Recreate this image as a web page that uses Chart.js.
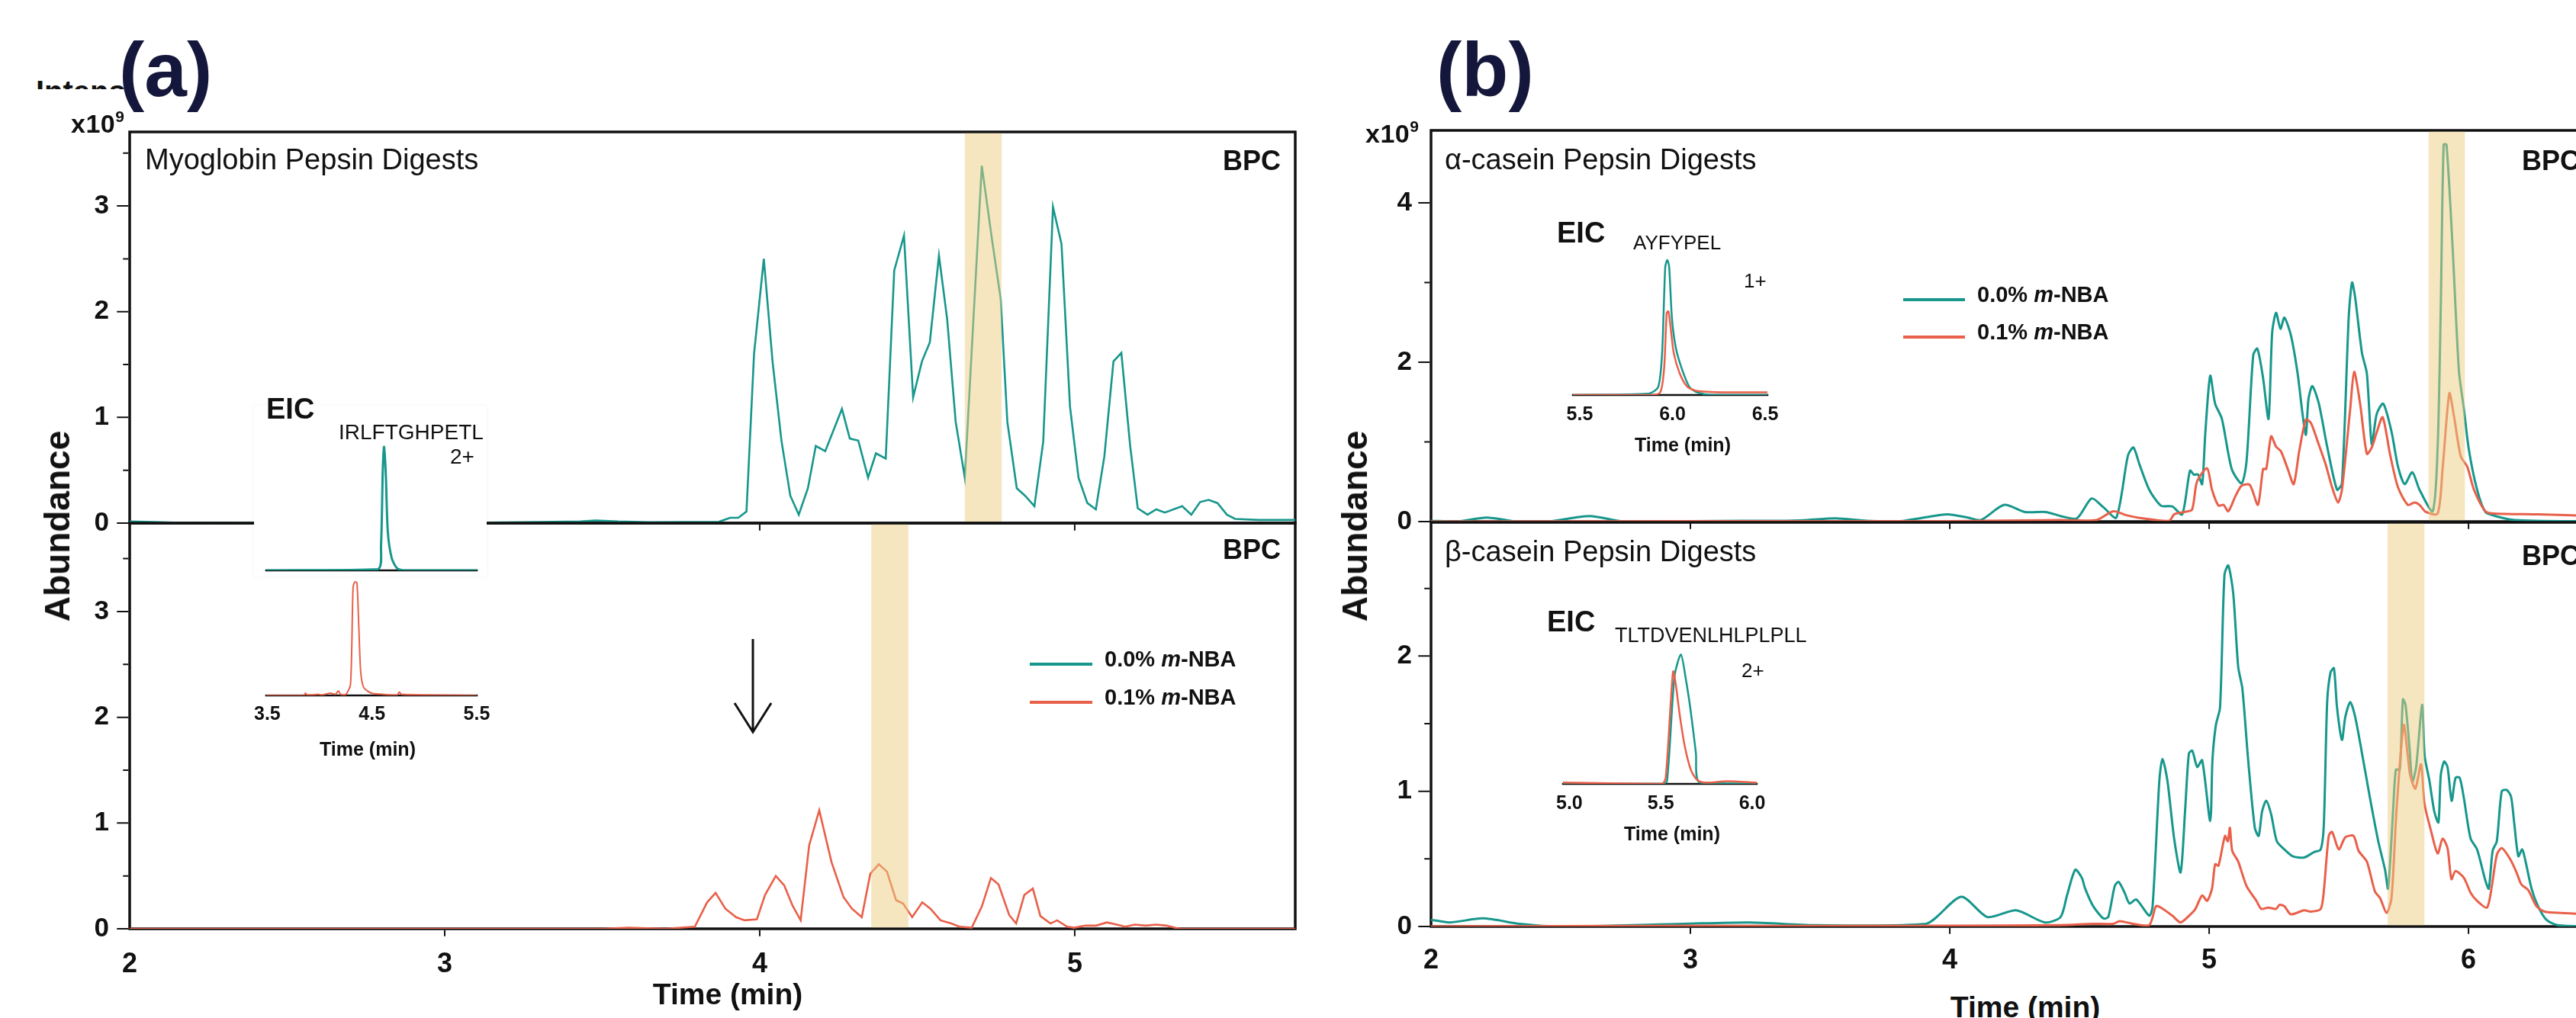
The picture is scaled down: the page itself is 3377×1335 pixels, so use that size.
<!DOCTYPE html>
<html>
<head>
<meta charset="utf-8">
<script src="https://cdn.jsdelivr.net/npm/chart.js@4.4.1/dist/chart.umd.min.js"></script>
<style>
  html, body { margin: 0; padding: 0; background: #fff; }
  #stage { position: relative; width: 3377px; height: 1335px; overflow: hidden; background: #fff;
           font-family: "Liberation Sans", Arial, Helvetica, sans-serif; color: #111; }
  #stage canvas { position: absolute; }
  .t { position: absolute; white-space: nowrap; line-height: 1; }
  .b { font-weight: bold; }
</style>
</head>
<body>
<div id="stage"></div>
<script>
// ---- data: [time (min), abundance x10^9] ----
const myoBpc0 = [[2.00,0.015],[2.10,0.008],[2.20,0.0],[2.30,0.003],[2.40,0.005],[3.13,0.005],[3.30,0.01],[3.43,0.015],[3.48,0.025],[3.55,0.015],[3.65,0.008],[3.87,0.012],[3.906,0.05],[3.932,0.05],[3.958,0.11],[3.982,1.60],[4.013,2.50],[4.041,1.52],[4.069,0.78],[4.097,0.26],[4.124,0.08],[4.153,0.33],[4.178,0.73],[4.208,0.68],[4.261,1.08],[4.286,0.80],[4.313,0.78],[4.344,0.43],[4.369,0.66],[4.400,0.61],[4.427,2.39],[4.458,2.72],[4.487,1.19],[4.515,1.53],[4.540,1.71],[4.569,2.53],[4.595,1.93],[4.622,0.96],[4.651,0.43],[4.705,3.38],[4.737,2.69],[4.765,2.12],[4.786,0.96],[4.816,0.33],[4.842,0.26],[4.872,0.16],[4.900,0.77],[4.931,2.99],[4.958,2.64],[4.985,1.10],[5.012,0.43],[5.040,0.19],[5.067,0.13],[5.094,0.63],[5.123,1.53],[5.148,1.61],[5.176,0.73],[5.200,0.14],[5.231,0.08],[5.259,0.13],[5.286,0.10],[5.341,0.16],[5.370,0.08],[5.398,0.20],[5.425,0.22],[5.453,0.19],[5.483,0.08],[5.509,0.04],[5.583,0.03],[5.70,0.03]];
const myoBpc1 = [[2.0,0.0],[3.50,0.0],[3.584,0.01],[3.70,0.0],[3.794,0.02],[3.833,0.25],[3.860,0.34],[3.891,0.19],[3.925,0.11],[3.952,0.08],[3.991,0.09],[4.017,0.32],[4.051,0.50],[4.078,0.41],[4.104,0.22],[4.130,0.08],[4.157,0.79],[4.189,1.12],[4.228,0.63],[4.266,0.30],[4.293,0.19],[4.324,0.11],[4.351,0.52],[4.378,0.61],[4.404,0.54],[4.433,0.27],[4.455,0.24],[4.484,0.11],[4.516,0.25],[4.542,0.19],[4.574,0.08],[4.608,0.05],[4.634,0.02],[4.673,0.01],[4.705,0.21],[4.734,0.48],[4.758,0.42],[4.792,0.13],[4.814,0.05],[4.840,0.32],[4.867,0.38],[4.891,0.12],[4.923,0.05],[4.944,0.08],[4.976,0.02],[4.998,0.01],[5.034,0.03],[5.068,0.03],[5.102,0.06],[5.133,0.04],[5.160,0.02],[5.191,0.04],[5.225,0.03],[5.259,0.04],[5.291,0.03],[5.332,0.0],[5.70,0.0]];
const aCasBpc0 = [[2.00,0.01],[2.10,0.0],[2.215,0.05],[2.33,0.0],[2.45,0.0],[2.611,0.07],[2.72,0.01],[2.785,0.0],[3.00,0.005],[3.20,0.01],[3.35,0.01],[3.45,0.02],[3.56,0.04],[3.68,0.01],[3.80,0.0],[3.90,0.05],[3.99,0.09],[4.07,0.05],[4.12,0.02],[4.21,0.21],[4.29,0.12],[4.37,0.12],[4.427,0.07],[4.490,0.04],[4.547,0.29],[4.592,0.18],[4.642,0.05],[4.687,0.83],[4.708,0.93],[4.731,0.72],[4.769,0.40],[4.814,0.20],[4.858,0.19],[4.896,0.09],[4.926,0.64],[4.941,0.59],[4.957,0.59],[4.973,0.47],[4.985,1.10],[5.004,1.83],[5.023,1.48],[5.049,1.29],[5.087,0.66],[5.125,0.48],[5.144,0.75],[5.170,2.09],[5.186,2.17],[5.208,1.80],[5.229,1.29],[5.243,2.37],[5.258,2.62],[5.275,2.42],[5.290,2.56],[5.315,2.34],[5.341,1.86],[5.360,1.35],[5.373,1.09],[5.383,1.54],[5.398,1.70],[5.423,1.48],[5.455,0.94],[5.493,0.40],[5.512,0.48],[5.538,2.56],[5.551,3.00],[5.563,2.81],[5.589,2.12],[5.608,1.86],[5.627,0.97],[5.646,1.35],[5.671,1.48],[5.703,1.13],[5.728,0.69],[5.754,0.47],[5.783,0.62],[5.811,0.40],[5.862,0.13],[5.881,0.94],[5.893,2.69],[5.904,4.73],[5.915,4.73],[5.938,3.48],[5.963,1.89],[5.982,1.42],[6.001,0.91],[6.033,0.40],[6.065,0.12],[6.103,0.07],[6.179,0.02],[6.48,0.0]];
const aCasBpc1 = [[2.0,0.0],[3.0,0.005],[4.0,0.005],[4.427,0.02],[4.566,0.02],[4.630,0.13],[4.680,0.08],[4.744,0.04],[4.846,0.01],[4.865,0.09],[4.903,0.12],[4.934,0.15],[4.953,0.50],[4.992,0.67],[5.011,0.40],[5.036,0.20],[5.055,0.21],[5.074,0.13],[5.100,0.31],[5.125,0.45],[5.157,0.46],[5.188,0.21],[5.208,0.66],[5.220,0.66],[5.239,1.07],[5.258,0.94],[5.277,0.88],[5.303,0.66],[5.326,0.47],[5.347,0.88],[5.373,1.28],[5.392,1.24],[5.417,1.02],[5.449,0.72],[5.474,0.43],[5.497,0.24],[5.512,0.40],[5.544,1.42],[5.559,1.88],[5.582,1.48],[5.608,0.85],[5.627,0.93],[5.646,1.12],[5.669,1.31],[5.697,0.85],[5.728,0.43],[5.766,0.21],[5.792,0.24],[5.811,0.21],[5.836,0.12],[5.881,0.10],[5.900,0.66],[5.926,1.61],[5.944,1.32],[5.970,0.82],[5.995,0.69],[6.021,0.40],[6.065,0.13],[6.103,0.10],[6.268,0.09],[6.48,0.07]];
const bCasBpc0 = [[2.0,0.05],[2.073,0.03],[2.20,0.06],[2.342,0.02],[2.50,0.0],[2.974,0.02],[3.23,0.03],[3.48,0.01],[3.908,0.02],[4.044,0.22],[4.145,0.07],[4.256,0.12],[4.367,0.03],[4.427,0.07],[4.452,0.23],[4.484,0.42],[4.509,0.36],[4.522,0.28],[4.553,0.15],[4.592,0.06],[4.611,0.07],[4.636,0.30],[4.651,0.33],[4.674,0.25],[4.693,0.17],[4.719,0.20],[4.769,0.08],[4.782,0.15],[4.808,1.08],[4.820,1.24],[4.839,1.08],[4.865,0.65],[4.890,0.40],[4.907,0.85],[4.922,1.28],[4.935,1.30],[4.954,1.18],[4.973,1.23],[5.004,0.78],[5.013,1.24],[5.026,1.49],[5.042,1.62],[5.059,2.60],[5.074,2.67],[5.093,2.46],[5.112,1.92],[5.128,1.76],[5.150,1.24],[5.176,0.73],[5.191,0.67],[5.204,0.85],[5.220,0.93],[5.239,0.83],[5.261,0.63],[5.290,0.57],[5.322,0.52],[5.366,0.51],[5.404,0.55],[5.430,0.57],[5.442,0.75],[5.455,1.66],[5.468,1.88],[5.481,1.91],[5.493,1.62],[5.512,1.38],[5.525,1.55],[5.544,1.66],[5.563,1.55],[5.595,1.22],[5.620,0.95],[5.652,0.63],[5.678,0.42],[5.690,0.28],[5.709,0.85],[5.720,1.16],[5.735,1.16],[5.747,1.68],[5.757,1.64],[5.773,1.31],[5.783,1.07],[5.798,1.18],[5.821,1.64],[5.831,1.26],[5.849,1.08],[5.868,0.85],[5.884,0.77],[5.893,1.12],[5.906,1.22],[5.919,1.18],[5.935,0.93],[5.950,1.10],[5.966,1.10],[5.982,0.95],[6.008,0.65],[6.033,0.57],[6.065,0.34],[6.078,0.28],[6.093,0.56],[6.109,0.63],[6.128,1.00],[6.147,1.01],[6.164,0.96],[6.177,0.75],[6.192,0.52],[6.207,0.57],[6.220,0.48],[6.243,0.28],[6.268,0.15],[6.300,0.05],[6.344,0.01],[6.48,0.0]];
const bCasBpc1 = [[2.0,0.0],[3.0,0.005],[4.0,0.005],[4.427,0.01],[4.553,0.02],[4.630,0.02],[4.655,0.04],[4.706,0.02],[4.769,0.01],[4.795,0.15],[4.814,0.14],[4.858,0.08],[4.890,0.03],[4.928,0.09],[4.947,0.13],[4.973,0.23],[4.992,0.19],[5.011,0.28],[5.023,0.46],[5.036,0.45],[5.061,0.67],[5.072,0.63],[5.080,0.73],[5.089,0.56],[5.112,0.48],[5.144,0.30],[5.182,0.19],[5.201,0.13],[5.227,0.14],[5.258,0.13],[5.271,0.16],[5.290,0.15],[5.315,0.09],[5.366,0.12],[5.392,0.11],[5.430,0.13],[5.442,0.26],[5.461,0.67],[5.474,0.70],[5.500,0.57],[5.525,0.66],[5.557,0.67],[5.576,0.56],[5.608,0.48],[5.639,0.26],[5.659,0.21],[5.684,0.10],[5.703,0.21],[5.722,0.85],[5.750,1.49],[5.766,1.26],[5.775,1.12],[5.795,1.02],[5.817,1.20],[5.830,0.91],[5.855,0.71],[5.881,0.54],[5.900,0.65],[5.919,0.58],[5.934,0.35],[5.950,0.41],[5.982,0.36],[6.008,0.25],[6.033,0.19],[6.071,0.14],[6.090,0.30],[6.109,0.53],[6.128,0.58],[6.160,0.50],[6.185,0.40],[6.204,0.31],[6.230,0.27],[6.262,0.15],[6.293,0.11],[6.357,0.10],[6.48,0.09]];

// EIC insets, relative intensity
const myoEic0 = [[3.49,0],[4.555,0.01],[4.586,0.2],[4.603,0.82],[4.615,1.0],[4.632,0.77],[4.651,0.31],[4.688,0.10],[4.736,0.02],[4.80,0.0],[5.5,0]];
const myoEic1 = [[3.49,0],[3.85,0.0],[3.864,0.02],[3.88,0.005],[3.985,0.01],[4.02,0.005],[4.106,0.02],[4.15,0.01],[4.179,0.04],[4.20,0.01],[4.251,0.01],[4.295,0.10],[4.319,0.95],[4.336,1.0],[4.356,0.99],[4.373,0.63],[4.392,0.21],[4.421,0.07],[4.494,0.02],[4.60,0.01],[4.74,0.005],[4.761,0.03],[4.78,0.01],[5.5,0]];
const aCasEic0 = [[5.463,0],[5.871,0.01],[5.923,0.06],[5.944,0.31],[5.961,0.95],[5.972,1.0],[5.982,0.95],[5.997,0.57],[6.018,0.35],[6.049,0.20],[6.091,0.06],[6.133,0.02],[6.217,0],[6.512,0]];
const aCasEic1 = [[5.463,0],[5.881,0],[5.934,0.02],[5.955,0.20],[5.969,0.61],[5.978,0.62],[5.990,0.50],[6.007,0.31],[6.039,0.16],[6.081,0.06],[6.133,0.03],[6.28,0.02],[6.512,0.02]];
const bCasEic0 = [[4.965,0],[5.507,0],[5.534,0.02],[5.575,0.83],[5.610,1.0],[5.637,0.81],[5.664,0.56],[5.692,0.24],[5.712,0.01],[6.025,0]];
const bCasEic1 = [[4.965,0.01],[5.507,0],[5.527,0.05],[5.555,0.64],[5.568,0.87],[5.582,0.77],[5.603,0.54],[5.630,0.30],[5.664,0.11],[5.699,0.03],[5.740,0.01],[5.863,0.02],[6.025,0.01]];

// highlighted retention windows (min)
const myoBandTop = [4.651, 4.768];
const myoBandBottom = [4.354, 4.472];
const aCasBand = [5.846, 5.986];
const bCasBand = [5.688, 5.830];

// tick labels of the insets
const myoEicTicks = [3.5, 4.5, 5.5];
const aCasEicTicks = [5.5, 6.0, 6.5];
const bCasEicTicks = [5.0, 5.5, 6.0];

const seriesNames = ["0.0% <i>m</i>-NBA", "0.1% <i>m</i>-NBA"];

const TEAL = "#17978c";
const RED = "#e8604a";
const FONT = '"Liberation Sans", Arial, Helvetica, sans-serif';

Chart.defaults.font.family = FONT;
Chart.defaults.color = "#111";

const stage = document.getElementById("stage");

const framePlugin = {
  id: "frame",
  beforeDatasetsDraw(chart, _args, o) {
    const { ctx, chartArea: a } = chart;
    const h = o.lw / 2;
    ctx.save();
    ctx.strokeStyle = "#111";
    ctx.lineWidth = o.lw;
    ctx.beginPath();
    if (o.sides.includes("l")) { ctx.moveTo(a.left, a.top - h); ctx.lineTo(a.left, a.bottom + h); }
    if (o.sides.includes("b")) { ctx.moveTo(a.left - h, a.bottom); ctx.lineTo(a.right + h, a.bottom); }
    if (o.sides.includes("t")) { ctx.moveTo(a.left - h, a.top); ctx.lineTo(a.right + h, a.top); }
    if (o.sides.includes("r")) { ctx.moveTo(a.right, a.top - h); ctx.lineTo(a.right, a.bottom + h); }
    ctx.stroke();
    ctx.restore();
  },
  afterDatasetsDraw(chart, _args, o) {
    const { ctx, chartArea: a, scales: { x, y } } = chart;
    const h = o.lw / 2;
    ctx.save();
    if (o.band) {
      const x0 = x.getPixelForValue(o.band[0]);
      const x1 = x.getPixelForValue(o.band[1]);
      ctx.fillStyle = "rgba(235,205,129,0.5)";
      ctx.fillRect(x0, a.top + h, x1 - x0, a.height - 2 * h);
    }
    ctx.strokeStyle = "#111";
    ctx.lineWidth = 2;
    ctx.beginPath();
    if (o.yTicks) {
      y.ticks.forEach((t) => {
        const py = y.getPixelForValue(t.value);
        const len = o.isMajor(t.value) ? 15 : 7;
        ctx.moveTo(a.left - h, py);
        ctx.lineTo(a.left - h - len, py);
      });
    }
    if (o.xTicks) {
      x.ticks.forEach((t) => {
        const px = x.getPixelForValue(t.value);
        if (px < a.left + 3) return;
        ctx.moveTo(px, a.bottom + h);
        ctx.lineTo(px, a.bottom + h + 8);
      });
    }
    ctx.stroke();
    ctx.restore();
  },
};

function plot(p) {
  const YW = 90, PT = 24, PR = 40;
  const XH = p.xLabels ? 80 : 24;
  const w = YW + (p.right - p.left) + PR;
  const h = PT + (p.bottom - p.top) + XH;
  const c = document.createElement("canvas");
  c.width = w;
  c.height = h;
  c.style.left = (p.left - YW) + "px";
  c.style.top = (p.top - PT) + "px";
  c.style.width = w + "px";
  c.style.height = h + "px";
  stage.appendChild(c);

  const isMajor = p.isMajor || ((v) => Number.isInteger(v));
  return new Chart(c, {
    type: "line",
    data: {
      datasets: p.series.map((s) => ({
        data: s.data.map(([x, y]) => ({ x, y })),
        borderColor: s.color,
        borderWidth: s.width || 3,
        pointRadius: 0,
        fill: false,
        tension: p.smooth ? 0.25 : 0,
      })),
    },
    options: {
      responsive: false,
      animation: false,
      devicePixelRatio: 1,
      events: [],
      layout: { autoPadding: false, padding: { left: 0, top: PT, right: PR, bottom: 0 } },
      plugins: {
        legend: { display: false },
        tooltip: { enabled: false },
        frame: { lw: p.lw || 3.5, sides: p.sides, band: p.band, yTicks: p.yLabels, xTicks: p.xTicks !== false, isMajor },
      },
      scales: {
        x: {
          type: "linear",
          min: p.xMin,
          max: p.xMax,
          grid: { display: false, drawTicks: false },
          border: { display: false },
          ticks: {
            display: !!p.xLabels,
            stepSize: 1,
            includeBounds: false,
            autoSkip: false,
            maxRotation: 0,
            padding: p.xPad ?? 25,
            font: { size: p.xFont || 36, weight: "bold" },
            color: "#111",
            callback: p.xFmt || ((v) => String(v)),
          },
          afterBuildTicks: p.xTickVals ? (s) => { s.ticks = p.xTickVals.map((v) => ({ value: v })); } : undefined,
          afterFit: (s) => { s.height = XH; s.paddingLeft = 0; s.paddingRight = 0; s.paddingTop = 0; s.paddingBottom = 0; },
        },
        y: {
          type: "linear",
          min: 0,
          max: p.yMax,
          grid: { display: false, drawTicks: false },
          border: { display: false },
          ticks: {
            display: !!p.yLabels,
            stepSize: p.yStep || 0.5,
            includeBounds: false,
            autoSkip: false,
            padding: p.yPad ?? 27,
            font: { size: 35, weight: "bold" },
            color: "#111",
            callback: (v) => (isMajor(v) ? String(v) : ""),
          },
          afterFit: (s) => { s.width = YW; s.paddingTop = 0; s.paddingBottom = 0; s.paddingLeft = 0; s.paddingRight = 0; },
        },
      },
    },
    plugins: [framePlugin],
  });
}

// ---- (a) myoglobin ----
plot({ left: 170, right: 1698, top: 173, bottom: 686, xMin: 2, xMax: 5.70, yMax: 3.70, yLabels: true,
       sides: "lbtr", band: myoBandTop, series: [{ data: myoBpc0, color: TEAL, width: 2.6 }] });
plot({ left: 170, right: 1698, top: 686, bottom: 1218, xMin: 2, xMax: 5.70, yMax: 3.836, yLabels: true,
       xLabels: true, sides: "lbtr", band: myoBandBottom, series: [{ data: myoBpc1, color: RED, width: 2.6 }] });

// ---- (b) caseins ----
plot({ left: 1876, right: 3400, top: 171, bottom: 684, xMin: 2, xMax: 6.482, yMax: 4.909, yStep: 1, yPad: 25,
       isMajor: (v) => v % 2 === 0, yLabels: true, sides: "lbt", band: aCasBand, smooth: true,
       series: [{ data: aCasBpc1, color: RED }, { data: aCasBpc0, color: TEAL }] });
plot({ left: 1876, right: 3400, top: 685, bottom: 1215, xMin: 2, xMax: 6.482, yMax: 2.989, yPad: 25, xPad: 23,
       yLabels: true, xLabels: true, sides: "lbt", band: bCasBand, smooth: true,
       series: [{ data: bCasBpc1, color: RED }, { data: bCasBpc0, color: TEAL }] });

// white card behind the myoglobin EIC inset
const card = document.createElement("div");
card.style.cssText = "position:absolute;left:333px;top:532px;width:305px;height:224px;background:#fff;box-shadow:0 0 6px 1px rgba(0,0,0,0.035);";
stage.appendChild(card);

// ---- EIC insets ----
plot({ left: 349, right: 625, top: 560, bottom: 748, xMin: 3.49, xMax: 5.5, yMax: 1.16, lw: 2.5, sides: "b",
       xTicks: false, smooth: true, series: [{ data: myoEic0, color: TEAL, width: 3 }] });
plot({ left: 349, right: 625, top: 752, bottom: 912, xMin: 3.49, xMax: 5.5, yMax: 1.074, lw: 2.5, sides: "b",
       xTicks: false, xLabels: true, xTickVals: myoEicTicks, xFont: 25, xPad: 10, xFmt: (v) => v.toFixed(1),
       smooth: true, series: [{ data: myoEic1, color: RED, width: 2 }] });
plot({ left: 2062, right: 2317, top: 330, bottom: 518, xMin: 5.463, xMax: 6.512, yMax: 1.062, lw: 2.5, sides: "b",
       xTicks: false, xLabels: true, xTickVals: aCasEicTicks, xFont: 25, xPad: 11, xFmt: (v) => v.toFixed(1),
       smooth: true, series: [{ data: aCasEic1, color: RED, width: 2.5 }, { data: aCasEic0, color: TEAL, width: 2.5 }] });
plot({ left: 2049, right: 2303, top: 850, bottom: 1028, xMin: 4.965, xMax: 6.025, yMax: 1.049, lw: 2.5, sides: "b",
       xTicks: false, xLabels: true, xTickVals: bCasEicTicks, xFont: 25, xPad: 11, xFmt: (v) => v.toFixed(1),
       smooth: true, series: [{ data: bCasEic1, color: RED, width: 2.5 }, { data: bCasEic0, color: TEAL, width: 2.5 }] });

// ---- text ----
function text(html, x, baseline, size, cls = "", anchor = "left", extra = "") {
  const d = document.createElement("div");
  d.className = "t " + cls;
  d.innerHTML = html;
  let pos = `top:${baseline - 0.8465 * size}px;font-size:${size}px;`;
  if (anchor === "left") pos += `left:${x}px;`;
  else if (anchor === "right") pos += `right:${3377 - x}px;`;
  else pos += `left:${x}px;transform:translateX(-50%);`;
  d.style.cssText = pos + extra;
  stage.appendChild(d);
  return d;
}

// clipped "Intensity" peeking out behind (a)
const peek = document.createElement("div");
peek.style.cssText = "position:absolute;left:47px;top:105px;width:125px;height:12px;overflow:hidden;";
peek.innerHTML = '<div class="t b" style="position:relative;top:-5px;font-size:40px;line-height:40px;">Intensity</div>';
stage.appendChild(peek);

text("(a)", 156, 126, 100, "b", "left", "color:#14173b;");
text("(b)", 1883, 126, 100, "b", "left", "color:#14173b;");

const sup = '<span style="font-size:21px;position:relative;top:-14px;">9</span>';
text("x10" + sup, 93, 174, 34, "b", "left", "letter-spacing:0.5px;");
text("x10" + sup, 1790, 187, 34, "b", "left", "letter-spacing:0.5px;");

[75, 1776].forEach((cx) => {
  const d = document.createElement("div");
  d.className = "t b";
  d.textContent = "Abundance";
  d.style.cssText = `left:${cx}px;top:690px;font-size:46px;transform:translate(-50%,-50%) rotate(-90deg);`;
  stage.appendChild(d);
});

text("Myoglobin Pepsin Digests", 190, 222, 38);
text("α-casein Pepsin Digests", 1894, 222, 38);
text("β-casein Pepsin Digests", 1894, 736, 38);

text("BPC", 1679, 223, 36, "b", "right");
text("BPC", 1679, 733, 36, "b", "right");
text("BPC", 3306, 223, 36, "b");
text("BPC", 3306, 741, 36, "b");

text("EIC", 349, 549, 38, "b");
text("IRLFTGHPETL", 444, 577, 28);
text("2+", 590, 609, 28);
text("Time (min)", 482, 991, 25, "b", "center");

text("EIC", 2041, 318, 38, "b");
text("AYFYPEL", 2141, 327, 26);
text("1+", 2286, 377, 26);
text("Time (min)", 2206, 592, 25, "b", "center");

text("EIC", 2028, 828, 38, "b");
text("TLTDVENLHLPLPLL", 2117, 843, 27);
text("2+", 2283, 888, 26);
text("Time (min)", 2192, 1102, 25, "b", "center");

text("Time (min)", 954, 1317, 39, "b", "center");
text("Time (min)", 2655, 1334, 39, "b", "center");

// legends
function legend(x, ys, lineW) {
  [TEAL, RED].forEach((col, i) => {
    const ln = document.createElement("div");
    ln.style.cssText = `position:absolute;left:${x}px;top:${ys[i] - 2}px;width:${lineW}px;height:4px;background:${col};`;
    stage.appendChild(ln);
    text(seriesNames[i], x + lineW + 16, ys[i] + 4, 29, "b");
  });
}
legend(1350, [871, 921], 82);
legend(2495, [393, 442], 81);

// arrow pointing at the missing peak
stage.insertAdjacentHTML("beforeend",
  '<svg width="3377" height="1335" style="position:absolute;left:0;top:0;pointer-events:none">' +
  '<path d="M987 838 V960 M963 922 L987 960 L1011 922" stroke="#111" stroke-width="3" fill="none"/></svg>');
</script>
</body>
</html>
